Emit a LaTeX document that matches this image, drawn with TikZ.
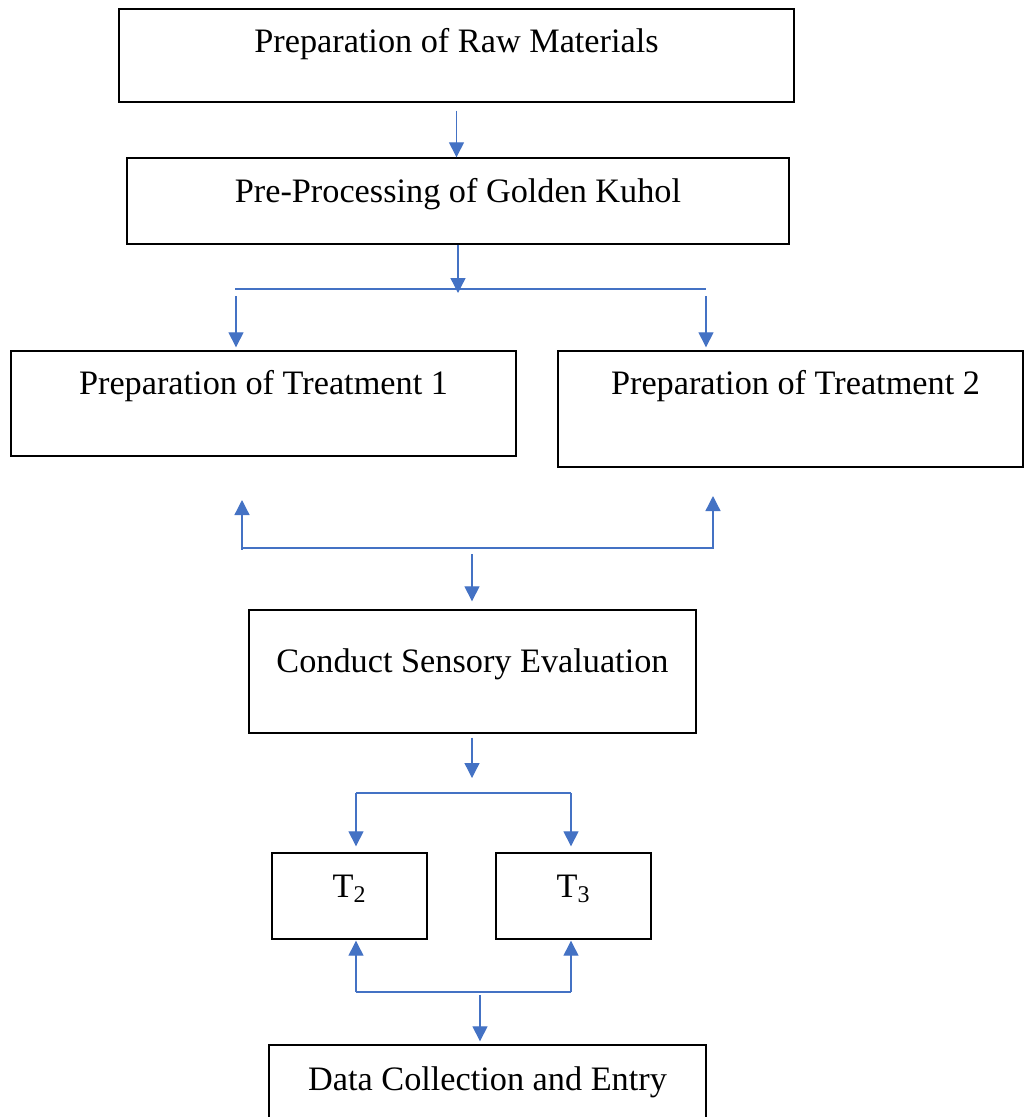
\documentclass[tikz,border=0pt]{standalone}
\usepackage{fontspec}
\setmainfont{Liberation Serif}
\usetikzlibrary{arrows.meta}
\definecolor{flowblue}{HTML}{4472C4}
\tikzstyle{process} = [rectangle, draw=black, line width=0.8pt, inner xsep=0pt, inner ysep=0pt, anchor=base, text centered, font=\fontsize{19.5}{23}\selectfont]
\tikzstyle{arrow} = [draw=flowblue, line width=0.75pt, -{Triangle[width=0.3cm,length=0.3cm]}]
\tikzstyle{link} = [draw=flowblue, line width=0.75pt]

\begin{document}
\begin{tikzpicture}[x=0.02cm, y=-0.02cm]
    \useasboundingbox (0,0) rectangle (1024,1117);
    \node (raw) [process, minimum width=13.5cm, text height=0.86cm, text depth=1.0cm] at (456.5,52) {Preparation of Raw Materials};
    \node (pre) [process, minimum width=13.24cm, text height=0.88cm, text depth=0.84cm] at (458,202) {Pre-Processing of Golden Kuhol};
    \node (treat1) [process, minimum width=10.1cm, text height=0.86cm, text depth=1.24cm] at (263.5,394) {Preparation of Treatment 1};
    \node (treat2) [process, minimum width=9.3cm, text height=0.86cm, text depth=1.46cm] at (790.5,394) {\hspace{0.2cm}Preparation of Treatment 2};
    \node (sens) [process, minimum width=8.94cm, text height=1.24cm, text depth=1.22cm] at (472.5,672) {Conduct Sensory Evaluation};
    \node (tb) [process, minimum width=3.1cm, text height=0.88cm, text depth=0.84cm] at (349.5,897) {T\textsubscript{2}};
    \node (tc) [process, minimum width=3.1cm, text height=0.88cm, text depth=0.84cm] at (573.5,897) {T\textsubscript{3}};
    \node (data) [process, minimum width=8.74cm, text height=0.9cm, text depth=0.8cm] at (487.5,1090) {Data Collection and Entry};

    % free ends of the connectors
    \coordinate (fork1) at (458,293);
    \coordinate (splitl) at (235,289);
    \coordinate (splitr) at (706,289);
    \coordinate (downl) at (236,296);
    \coordinate (downr) at (706,296);
    \coordinate (upl) at (242,548);
    \coordinate (uplt) at (242,500);
    \coordinate (uprt) at (713,496);
    \coordinate (mid1) at (472,554);
    \coordinate (fork2) at (472,778);
    \coordinate (tbr1) at (356,793);
    \coordinate (tbr2) at (571,793);
    \coordinate (tjn1) at (356,992);
    \coordinate (tjn2) at (571,992);
    \coordinate (mid2) at (480,995);

    \draw [arrow, shorten <=0.16cm] (raw.south) -- (raw.south |- pre.north);
    \draw [arrow] (pre.south) -- (fork1);
    \draw [link] (splitl) -- (splitr);
    \draw [arrow, shorten >=0.06cm] (downl) -- (downl |- treat1.north);
    \draw [arrow, shorten >=0.06cm] (downr) -- (downr |- treat2.north);
    \draw [link] (upl) -- ++(0,2);
    \draw [arrow] (upl) -- (uplt);
    \draw [arrow] (upl) -| (uprt);
    \draw [arrow, shorten >=0.16cm] (mid1) -- (mid1 |- sens.north);
    \draw [arrow, shorten <=0.08cm] (sens.south -| fork2) -- (fork2);
    \draw [link] (tbr1) -- (tbr2);
    \draw [arrow, shorten >=0.12cm] (tbr1) -- (tbr1 |- tb.north);
    \draw [arrow, shorten >=0.12cm] (tbr2) -- (tbr2 |- tc.north);
    \draw [link] (tjn1) -- (tjn2);
    \draw [arrow, shorten >=0.02cm] (tjn1) -- (tjn1 |- tb.south);
    \draw [arrow, shorten >=0.02cm] (tjn2) -- (tjn2 |- tc.south);
    \draw [arrow, shorten >=0.06cm] (mid2) -- (mid2 |- data.north);

\end{tikzpicture}
\end{document}
